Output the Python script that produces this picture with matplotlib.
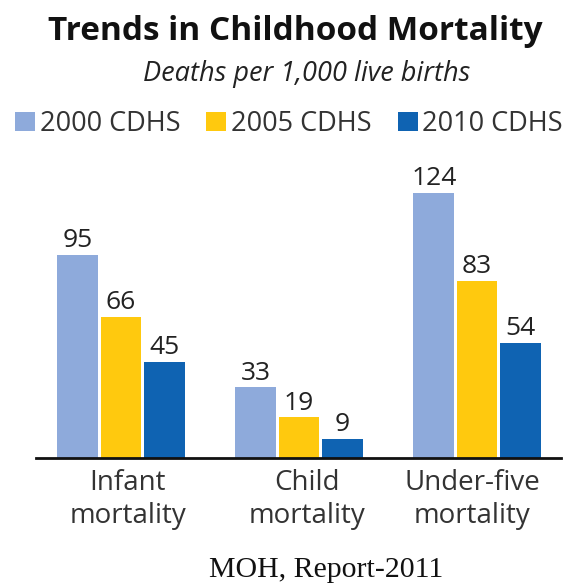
import matplotlib
matplotlib.use("Agg")
import matplotlib.pyplot as plt
import matplotlib.transforms as mtransforms
import numpy as np
from matplotlib.patches import Patch

categories = ["Infant\nmortality", "Child\nmortality", "Under-five\nmortality"]
series_names = ["2000 CDHS", "2005 CDHS", "2010 CDHS"]
values_2000 = [95, 33, 124]
values_2005 = [66, 19, 83]
values_2010 = [45, 9, 54]
colors = ["#8EAADB", "#FFC90E", "#0F63B2"]

title = "Trends in Childhood Mortality"
subtitle = "Deaths per 1,000 live births"
source = "MOH, Report-2011"

SANS = "Open Sans"
W = 584.0

fig = plt.figure(figsize=(5.84, 5.84), dpi=100)
fig.patch.set_facecolor("white")

# axes: baseline at y=458px, x from 36 to 561 px
x_left, x_right = 36, 561
ax = fig.add_axes([x_left/W, 1-458/W, (x_right-x_left)/W, 278/W])
ax.set_ylim(0, 130)

x = np.array([0.0, 1.0, 2.0])
w = 0.23
off = 0.242
spacing_px = 178.0
c0_px = 121.0
ax.set_xlim((x_left - c0_px)/spacing_px, (x_right - c0_px)/spacing_px)

all_series = [values_2000, values_2005, values_2010]
for i, (vals, c) in enumerate(zip(all_series, colors)):
    xs = x + (i - 1) * off
    ax.bar(xs, vals, width=w, color=c, edgecolor="none", zorder=2)
    for xi, v in zip(xs, vals):
        ax.text(xi, v + 0.8, str(v), ha="center", va="bottom",
                fontsize=19, family=SANS, color="#222222")

for s in ["top", "right", "left"]:
    ax.spines[s].set_visible(False)
ax.spines["bottom"].set_linewidth(2.0)
ax.spines["bottom"].set_color("#111111")
ax.set_yticks([])
ax.set_xticks(x)
ax.set_xticklabels(categories, fontsize=20, family=SANS, color="#333333",
                   linespacing=1.22)
ax.tick_params(axis="x", length=0, pad=8)
# small horizontal nudges of the category labels (in points)
for lbl, dx in zip(ax.get_xticklabels(), [5, 6, -3.5]):
    lbl.set_transform(lbl.get_transform() +
                      mtransforms.ScaledTranslation(dx/72, 0, fig.dpi_scale_trans))

fig.text(0.505, 1-31/W, title, ha="center", va="center",
         fontsize=24, fontweight="bold", family=SANS, color="#111111")
fig.text(0.526, 1-74/W, subtitle, ha="center", va="center",
         fontsize=19.5, style="italic", family=SANS, color="#222222")

handles = [Patch(facecolor=c, edgecolor="none") for c in colors]
leg = fig.legend(handles, series_names, loc="center left", ncol=3,
                 bbox_to_anchor=(15/W, 1-124/W), frameon=False,
                 prop={"family": SANS, "size": 19.5},
                 handlelength=0.74, handleheight=0.68, handletextpad=0.18,
                 columnspacing=0.95, borderaxespad=0, borderpad=0)
for t in leg.get_texts():
    t.set_color("#333333")

fig.text(326/W, 1-577/W, source, ha="center", va="baseline",
         fontsize=21.5, family="Liberation Serif", color="#111111")

fig.savefig("out.png", dpi=100)
